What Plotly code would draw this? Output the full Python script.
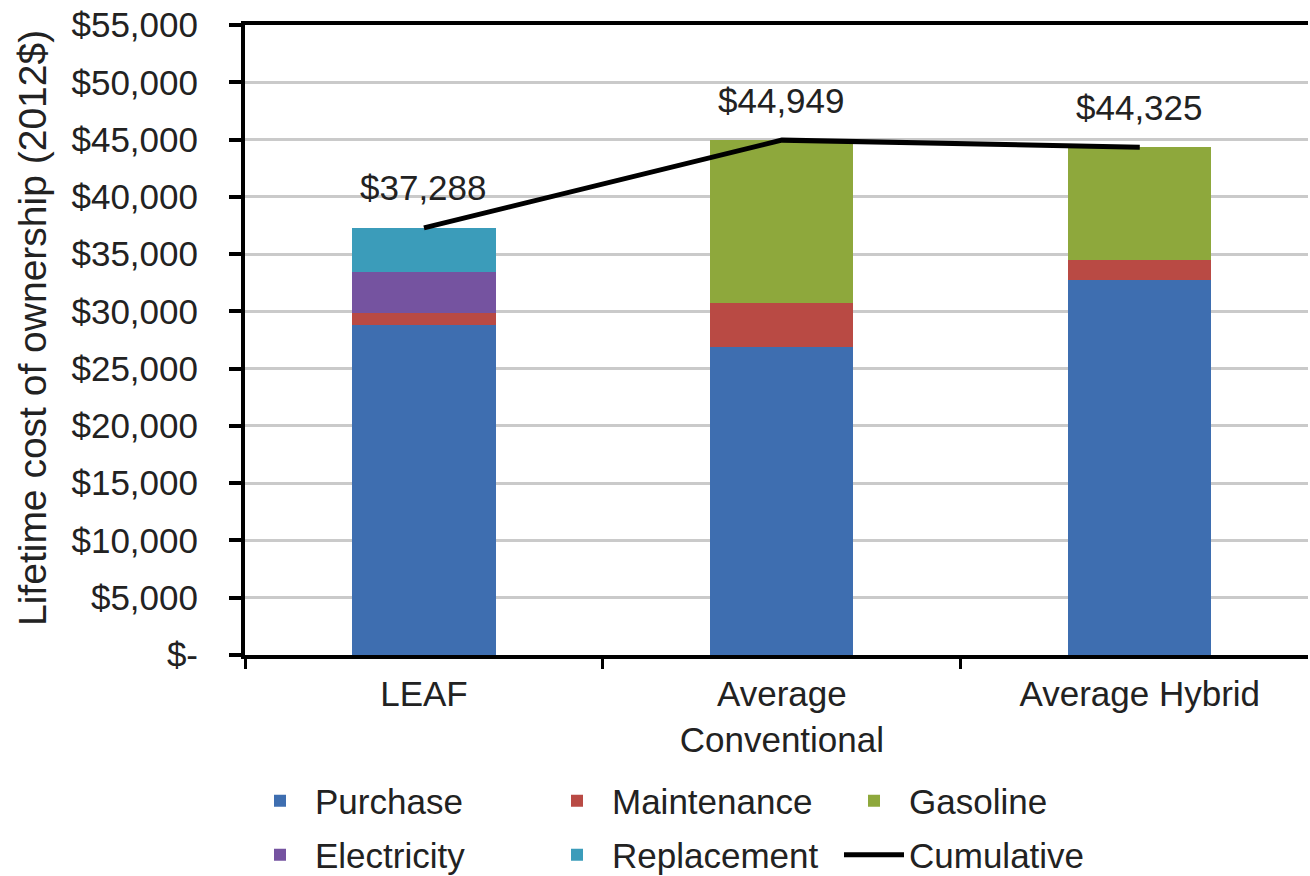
import plotly.graph_objects as go

categories = ["LEAF", "Average<br>Conventional", "Average Hybrid"]
purchase = [28810, 26900, 32740]
maintenance = [1050, 3830, 1740]
gasoline = [0, 14219, 9845]
electricity = [3580, 0, 0]
replacement = [3848, 0, 0]
cumulative = [37288, 44949, 44325]

ytickvals = [0, 5000, 10000, 15000, 20000, 25000, 30000, 35000, 40000, 45000, 50000, 55000]
yticktext = ["$-", "$5,000", "$10,000", "$15,000", "$20,000", "$25,000", "$30,000",
             "$35,000", "$40,000", "$45,000", "$50,000", "$55,000"]
ytitle = "Lifetime cost of ownership (2012$)"

FONT = "Liberation Sans, Arial, sans-serif"
TXT = "#222222"

W, H = 1310, 876
L, R, T, B = 245, 2, 25, 221
PW, PH = W - L - R, H - T - B

def px2paper_y(py):
    return (H - B - py) / PH

def px2paper_x(px):
    return (px - L) / PW

fig = go.Figure()
series = [
    ("Purchase", purchase, "#3e6eb0", "legend"),
    ("Maintenance", maintenance, "#b94a44", "legend"),
    ("Gasoline", gasoline, "#8ea83c", "legend"),
    ("Electricity", electricity, "#7553a0", "legend2"),
    ("Replacement", replacement, "#3b9cba", "legend2"),
]
for name, vals, col, lg in series:
    fig.add_trace(go.Bar(x=categories, y=vals, name=name, marker_color=col,
                         marker_line_width=0, width=0.4, legend=lg))

fig.add_trace(go.Scatter(x=categories, y=cumulative, name="Cumulative", mode="lines",
                         line=dict(color="black", width=5), legend="legend2"))

for c, v in zip(categories, cumulative):
    fig.add_annotation(x=c, y=v, text="${:,}".format(v), showarrow=False,
                       yshift=40, yanchor="middle",
                       font=dict(family=FONT, size=35, color=TXT))

# y-axis title placed as a rotated annotation
fig.add_annotation(xref="paper", yref="paper", x=px2paper_x(32), y=px2paper_y(328),
                   xanchor="center", yanchor="middle", textangle=-90,
                   text=ytitle, showarrow=False,
                   font=dict(family=FONT, size=39, color=TXT))

legend_common = dict(orientation="h", xanchor="left", yanchor="middle",
                     bgcolor="rgba(0,0,0,0)", font=dict(family=FONT, size=35, color=TXT),
                     entrywidth=222, entrywidthmode="pixels", itemwidth=60,
                     traceorder="normal")

fig.update_layout(
    width=W, height=H,
    margin=dict(l=L, r=R, t=T, b=B, autoexpand=False),
    barmode="stack",
    bargap=0.6,
    plot_bgcolor="white", paper_bgcolor="white",
    font=dict(family=FONT, size=35, color=TXT),
    legend=dict(x=px2paper_x(245), y=px2paper_y(801), **legend_common),
    legend2=dict(x=px2paper_x(245), y=px2paper_y(855), **legend_common),
    xaxis=dict(range=[-0.5, 2.47], showline=True, linecolor="black", linewidth=4,
               mirror=True, ticks="outside", tickson="boundaries", ticklen=10,
               tickwidth=3, tickcolor="black", showgrid=False,
               tickfont=dict(family=FONT, size=35, color=TXT), ticklabelstandoff=5),
    yaxis=dict(range=[0, 55000], tickvals=ytickvals, ticktext=yticktext,
               showline=True, linecolor="black", linewidth=4, ticks="outside",
               ticklen=12, tickwidth=4, tickcolor="black",
               showgrid=True, gridcolor="#cacaca", gridwidth=3, zeroline=False,
               tickfont=dict(family=FONT, size=35, color=TXT), ticklabelstandoff=24,
               automargin=False),
)

fig.write_html("out.html", config={"displayModeBar": False},
               post_script="document.body.style.margin='0';document.body.style.overflow='hidden';")
